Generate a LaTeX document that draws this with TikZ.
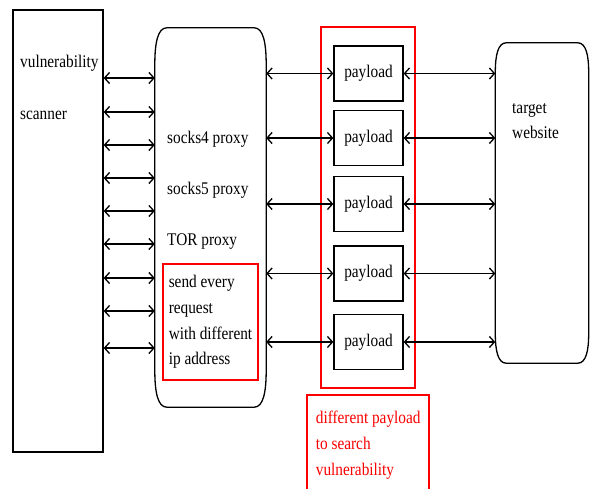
\documentclass[tikz,border=0pt]{standalone}
\usepackage{fontspec}
\setmainfont{Liberation Serif}[FakeStretch=0.86]
\usetikzlibrary{positioning}
\usetikzlibrary{calc}
\usetikzlibrary{arrows.meta}

\definecolor{markred}{RGB}{250,0,0}

% soft box: straight sides with long curved corners, drawn round a node
\newcommand{\softbox}[3]{%
    \draw[line width=1.3pt] ([yshift=#3]#1.south west) -- ([yshift=-#3]#1.north west)
        .. controls ([yshift=-0.4*#3]#1.north west) and ([xshift=0.25*#2]#1.north west) .. ([xshift=#2]#1.north west)
        -- ([xshift=-#2]#1.north east)
        .. controls ([xshift=-0.25*#2]#1.north east) and ([yshift=-0.4*#3]#1.north east) .. ([yshift=-#3]#1.north east)
        -- ([yshift=#3]#1.south east)
        .. controls ([yshift=0.4*#3]#1.south east) and ([xshift=-0.25*#2]#1.south east) .. ([xshift=-#2]#1.south east)
        -- ([xshift=#2]#1.south west)
        .. controls ([xshift=0.25*#2]#1.south west) and ([yshift=0.4*#3]#1.south west) .. cycle;}

\begin{document}
\begin{tikzpicture}[x=1pt, y=-1pt,
        every node/.style={font=\fontsize{17.8pt}{25.7pt}\selectfont},
        box/.style={draw=black, line width=1.3pt, inner sep=0pt},
        hidden/.style={draw=none, inner sep=0pt},
        redbox/.style={draw=markred, line width=2.4pt},
        word/.style={inner sep=0pt, anchor=west},
        link/.style={{Straight Barb[length=5pt,width=11pt]}-{Straight Barb[length=5pt,width=11pt]}, line width=1.3pt}]
    \useasboundingbox (0,0) rectangle (590,489);
    \clip (0,0) rectangle (590,489);

    % scanner
    \node[box, minimum width=90pt, minimum height=442pt] (scanner) at (58,231) {};
    \node[word] (scan_1) at (20,63) {vulnerability};
    \node[word] (scan_2) at (20,115) {scanner};

    % proxies
    \node[hidden, minimum width=111pt, minimum height=379pt] (proxy) at (210.5,217.5) {};
    \softbox{proxy}{12pt}{37pt}
    \node[word] (socks4) at (167,139) {socks4 proxy};
    \node[word] (socks5) at (167,190) {socks5 proxy};
    \node[word] (tor) at (167,242) {TOR proxy};
    \node[redbox, minimum width=95pt, minimum height=116pt, inner sep=4pt, align=left] (sendbox) at (210.5,322) {send every\\request\\with different\\ip address};

    % payloads
    \node[redbox, minimum width=94pt, minimum height=361pt] (paygroup) at (368,207.5) {};
    \foreach \i/\y in {1/73.5, 2/138, 3/204, 4/273.5, 5/342}
        \node[box, minimum width=69pt, minimum height=55pt] (pay_\i) at (368.5,\y) {payload};

    % target
    \node[hidden, minimum width=93pt, minimum height=320pt] (target) at (542,203) {};
    \softbox{target}{11pt}{30pt}
    \node[word, align=left] (target_label) at (512,121) {target\\website};

    \node[redbox, text=markred, anchor=north west, minimum width=122pt, minimum height=100pt, inner sep=7pt, align=left] (note) at (306,394) {different payload\\to search\\vulnerability};

    \foreach \y in {78, 112, 145, 178, 211, 244, 278, 311, 348}
        \draw[link] (scanner.east |- 0,\y) -- (proxy.west |- 0,\y);
    \foreach \i in {1,...,5} {
        \draw[link] (proxy.east |- pay_\i.west) -- (pay_\i.west);
        \draw[link] (pay_\i.east) -- (target.west |- pay_\i.east);
    }
\end{tikzpicture}
\end{document}
